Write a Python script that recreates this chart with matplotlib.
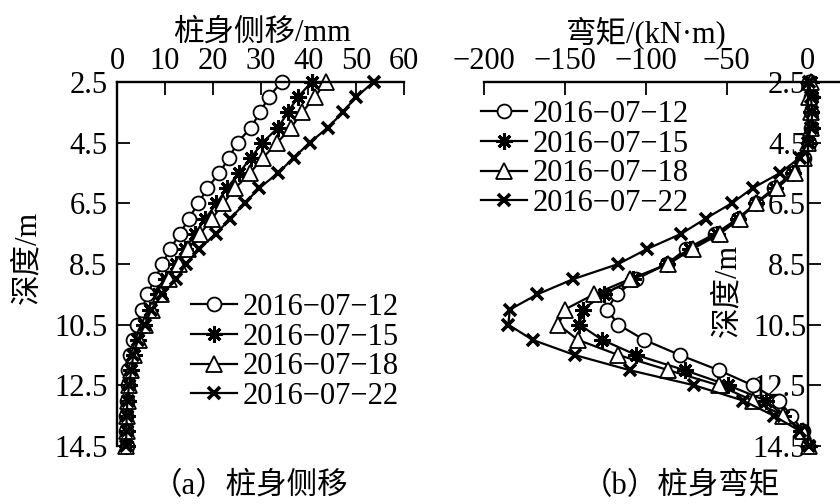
import matplotlib
matplotlib.use("Agg")
import matplotlib.pyplot as plt

plt.rcParams['font.family'] = ['Liberation Serif', 'Noto Sans CJK SC', 'DejaVu Sans']
plt.rcParams['axes.unicode_minus'] = True

depth = [2.5, 3.0, 3.5, 4.0, 4.5, 5.0, 5.5, 6.0, 6.5, 7.0, 7.5, 8.0, 8.5,
         9.0, 9.5, 10.0, 10.5, 11.0, 11.5, 12.0, 12.5, 13.0, 13.5, 14.0, 14.5]
labels = ['2016\u221207\u221212', '2016\u221207\u221215', '2016\u221207\u221218', '2016\u221207\u221222']

disp_0712 = [34.4, 31.7, 29.9, 28.0, 25.2, 23.4, 21.4, 18.9, 17.0, 15.0, 13.2, 11.1, 9.5,
             7.9, 6.3, 5.3, 4.1, 3.4, 2.8, 2.4, 2.2, 2.0, 1.8, 1.8, 2.0]
disp_0715 = [40.7, 37.8, 35.7, 33.7, 30.4, 28.0, 25.5, 23.0, 20.8, 18.5, 16.3, 14.3, 12.4,
             10.3, 8.6, 7.0, 5.7, 4.4, 3.5, 3.0, 2.6, 2.3, 2.1, 2.0, 2.0]
disp_0718 = [43.7, 41.3, 38.7, 36.4, 33.5, 30.5, 27.8, 24.7, 22.2, 19.9, 17.4, 14.9, 12.9,
             10.9, 9.1, 7.4, 5.9, 4.6, 3.6, 3.0, 2.6, 2.3, 2.1, 2.0, 1.9]
disp_0722 = [53.7, 49.9, 47.2, 44.1, 40.3, 36.9, 33.7, 29.7, 26.7, 23.7, 20.7, 17.2, 14.4,
             12.4, 9.5, 7.2, 5.8, 4.4, 3.4, 3.0, 2.5, 2.2, 2.0, 2.0, 1.8]

mom_0712 = [1, 2, 2, 2, 1, -2, -9, -21, -32, -43, -57, -75, -87,
            -106, -118, -124, -117, -101, -79, -55, -34, -18, -10, -3, 0]
mom_0715 = [2, 3, 2, 3, 1, -3, -9, -20, -32, -43, -56, -73, -87,
            -108, -126, -139, -141, -127, -106, -76, -49, -26, -15, -4, 1]
mom_0718 = [2, 1, 2, 2, 0, -2, -8, -19, -32, -42, -54, -71, -86,
            -110, -132, -150, -154, -142, -117, -86, -55, -34, -15, -3, 1]
mom_0722 = [1, 2, 3, 2, 0, -5, -17, -34, -47, -63, -78, -99, -117,
            -145, -167, -184, -185, -170, -144, -110, -70, -40, -21, -5, 1]

yticks = [2.5, 4.5, 6.5, 8.5, 10.5, 12.5, 14.5]
xticks_l = [0, 10, 20, 30, 40, 50, 60]
xticks_r = [-200, -150, -100, -50, 0]

styles = [
    dict(marker='o', markersize=10, markerfacecolor='white', markeredgewidth=1.3),
    dict(marker=(8, 2, 0), markersize=11.5, markeredgewidth=2.2),
    dict(marker='^', markersize=11, markerfacecolor='white', markeredgewidth=1.3),
    dict(marker='x', markersize=9, markeredgewidth=2.6),
]

FS = 22
fig = plt.figure(figsize=(8.4, 5.04), dpi=100)
W, H = 840, 504

def fx(px):
    return px / W

def fy(py):
    return 1 - py / H

axL = fig.add_axes([fx(117), fy(446), fx(404) - fx(117), fy(82) - fy(446)])
axR = fig.add_axes([fx(484), fy(446), fx(840) - fx(484), fy(82) - fy(446)])

for vals, lab, st in zip([disp_0712, disp_0715, disp_0718, disp_0722], labels, styles):
    axL.plot(vals, depth, color='black', linewidth=1.6, markeredgecolor='black',
             clip_on=False, label=lab, **st)
for vals, lab, st in zip([mom_0712, mom_0715, mom_0718, mom_0722], labels, styles):
    axR.plot(vals, depth, color='black', linewidth=1.6, markeredgecolor='black',
             clip_on=False, label=lab, **st)

for ax in (axL, axR):
    ax.set_ylim(14.5, 2.5)
    ax.set_yticks(yticks)
    ax.set_yticklabels([str(v) for v in yticks])
    ax.spines['bottom'].set_visible(False)
    ax.spines['right'].set_visible(False)
    ax.spines['top'].set_linewidth(1.7)
    ax.spines['left'].set_linewidth(1.7)
    ax.xaxis.tick_top()
    ax.tick_params(axis='both', direction='in', length=9, width=1.3, labelsize=FS)
    ax.set_facecolor('none')

axL.set_xlim(0, 60)
axL.set_xticks(xticks_l)
axL.tick_params(axis='x', pad=4)
axL.tick_params(axis='y', pad=7)

axR.set_xlim(-200, 20)
axR.set_xticks(xticks_r)
axR.set_xticklabels([str(v).replace('-', '\u2212') for v in xticks_r])
axR.spines['left'].set_position(('data', 0))
axR.tick_params(axis='x', pad=4)
axR.tick_params(axis='y', pad=1)

# axis titles
fig.text(fx(262), fy(33), '桩身侧移/mm', ha='center', va='center', fontsize=FS)
fig.text(fx(646), fy(33), '弯矩/(kN·m)', ha='center', va='center', fontsize=FS)
fig.text(fx(28), fy(257), '深度/m', ha='center', va='center', rotation=90, fontsize=FS)
fig.text(fx(728), fy(290), '深度/m', ha='center', va='center', rotation=90, fontsize=FS)

# captions
fig.text(fx(250), fy(486), '（a）桩身侧移', ha='center', va='center', fontsize=FS)
fig.text(fx(681), fy(486), '（b）桩身弯矩', ha='center', va='center', fontsize=FS)

legkw = dict(frameon=False, fontsize=FS, handlelength=1.5, handletextpad=0.2,
             labelspacing=0.02, borderpad=0, borderaxespad=0, loc='upper left')
axL.legend(bbox_to_anchor=(fx(191), fy(293)), bbox_transform=fig.transFigure, **legkw)
axR.legend(bbox_to_anchor=(fx(481), fy(100)), bbox_transform=fig.transFigure, **legkw)

fig.savefig('out.png', dpi=100)
